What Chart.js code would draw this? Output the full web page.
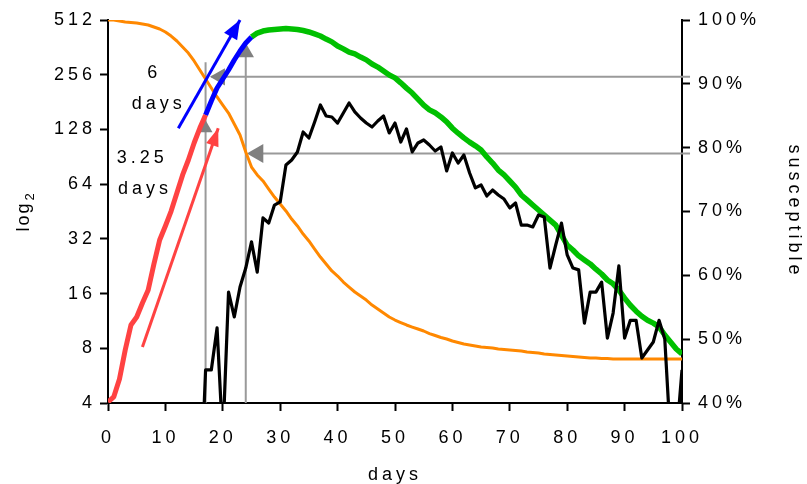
<!DOCTYPE html>
<html>
<head>
<meta charset="utf-8">
<script src="https://cdn.jsdelivr.net/npm/chart.js@4.4.1/dist/chart.umd.min.js"></script>
<style>
html, body { margin: 0; padding: 0; background: #fff; }
</style>
</head>
<body>
<canvas id="myChart" width="807" height="484"></canvas>
<script>
// tick labels
const xTicks = [0, 10, 20, 30, 40, 50, 60, 70, 80, 90, 100];
const leftTicks = [4, 8, 16, 32, 64, 128, 256, 512];
const rightTicks = [40, 50, 60, 70, 80, 90, 100];

// susceptible share, days 0..100 (right axis, %)
const susceptiblePct = [
    100, 100, 99.84, 99.69, 99.61, 99.53, 99.37, 99.22, 98.90, 98.59,
    98.12, 97.49, 96.71, 95.77, 94.83, 93.58, 92.17, 90.76, 89.35, 87.94,
    86.68, 85.43, 83.71, 81.98, 79.32, 76.97, 75.72, 74.78, 73.52, 72.27,
    71.17, 70.08, 68.82, 67.73, 66.47, 65.38, 64.12, 62.87, 61.77, 60.68,
    59.89, 58.95, 58.17, 57.39, 56.76, 56.13, 55.35, 54.72, 54.10, 53.47,
    53.00, 52.61, 52.22, 51.90, 51.59, 51.28, 50.88, 50.57, 50.26, 50.02,
    49.71, 49.48, 49.24, 49.09, 48.93, 48.77, 48.69, 48.61, 48.46, 48.38,
    48.30, 48.22, 48.14, 47.99, 47.91, 47.83, 47.67, 47.59, 47.52, 47.44,
    47.36, 47.28, 47.20, 47.12, 47.05, 47.05, 46.97, 46.97, 46.89, 46.89,
    46.89, 46.89, 46.89, 46.89, 46.89, 46.89, 46.89, 46.89, 46.89, 46.89, 46.89
];

// smoothed curve, split in three coloured parts (left axis, log2)
const redStart = 0;
const redLog = [4.05, 4.32, 5.42, 7.83, 10.75, 11.89, 14.2, 16.74, 23.26, 31.54,
    37.66, 45.5, 57.2, 71.9, 86.9, 107.8, 130.3, 153.7];
const blueStart = 17;
const blueLog = [153.7, 183.5, 216.3, 242.5, 271.7, 308.5, 345.6, 382.6, 412.7];
const greenStart = 25;
const greenLog = [
    412.7, 434, 445, 451, 454, 457, 460, 457, 454, 448,
    440, 429, 418, 402, 388, 368, 355, 341, 333, 320,
    309, 293, 282, 268, 255, 246, 231, 216, 203, 188,
    174, 164, 158, 150, 141, 130, 122, 115, 109, 104,
    98.6, 90.3, 83.6, 76.5, 71.9, 66.6, 61.7, 55.8, 52.4, 49.1,
    46.1, 43.3, 40.6, 38.1, 33.6, 29.6, 27.8, 25.8, 24.5, 23.3,
    21.8, 20.5, 19.0, 18.1, 16.7, 15.1, 13.8, 12.8, 12.0, 11.4,
    11.0, 10.5, 9.47, 8.67, 7.93, 7.44
];

// daily counts, days 16..100 (left axis, log2)
const blackStart = 16;
const blackLog = [
    1, 6.08, 6.08, 10.35, 2.5, 16.3, 11.9, 17.4, 22.1, 30.8,
    21.0, 41.7, 39.1, 49.1, 51.1, 81.6, 86.9, 96.2, 123.9, 114.8,
    140.7, 174.4, 151.7, 149.8, 138.8, 157.6, 178.9, 159.7, 147.9, 138.8,
    132.0, 142.4, 151.7, 122.4, 138.8, 109.1, 128.7, 96.2, 107.8, 112.0,
    105.1, 97.4, 102.5, 75.6, 95.0, 83.6, 92.6, 73.7, 61.0, 63.3,
    55.1, 59.4, 55.8, 53.0, 47.3, 50.4, 38.1, 38.1, 37.2, 43.3,
    42.2, 22.1, 29.6, 39.1, 26.1, 22.1, 21.6, 11.0, 16.3, 16.3,
    18.5, 9.1, 12.5, 22.7, 9.1, 11.4, 11.4, 7.07, 7.83, 8.66,
    11.4, 9.0, 2.5, 2.5, 6.08
];

// doubling-time arrows [day, log2 value]
const redArrow = [[6.0, 8.13], [19.2, 130]];
const blueArrow = [[12.25, 130], [23.0, 512]];

// guide lines and their arrow heads
const guideV1 = [[17, 4], [17, 300]];
const guideV2 = [[24, 4], [24, 350]];
const guideH1 = [[18, 91.1], [101.4, 91.1]];
const guideH2 = [[25, 79.1], [101.4, 79.1]];
const upHeads = [[17, 130], [24, 339]];
const leftHeads = [[19.5, 91.1], [26.1, 79.1]];

const notes = [
    { text: '6', day: 7.7, val: 262 },
    { text: 'days', day: 8.5, val: 177 },
    { text: '3.25', day: 5.6, val: 89 },
    { text: 'days', day: 6.1, val: 60 }
];

function pts(start, arr) {
    return arr.map(function (v, i) { return { x: start + i, y: v }; });
}
function pairs(arr) {
    return arr.map(function (p) { return { x: p[0], y: p[1] }; });
}

const FONT = "'Liberation Sans', Arial, sans-serif";
Chart.defaults.font.family = FONT;
Chart.defaults.font.size = 18;
Chart.defaults.color = '#000';

const spacing = {
    id: 'spacing',
    beforeDraw(chart) { chart.ctx.letterSpacing = '4px'; }
};

const arrowHeads = {
    id: 'arrowHeads',
    afterDatasetsDraw(chart) {
        const ctx = chart.ctx;
        chart.data.datasets.forEach(function (ds, i) {
            if (!ds.head) return;
            const p = chart.getDatasetMeta(i).data;
            const a = p[p.length - 2], b = p[p.length - 1];
            const ang = Math.atan2(b.y - a.y, b.x - a.x);
            ctx.save();
            ctx.translate(b.x, b.y);
            ctx.rotate(ang);
            ctx.beginPath();
            ctx.moveTo(0, 0);
            ctx.lineTo(-ds.head.len, -ds.head.w / 2);
            ctx.lineTo(-ds.head.len, ds.head.w / 2);
            ctx.closePath();
            ctx.fillStyle = ds.borderColor;
            ctx.fill();
            ctx.restore();
        });
    }
};

const notesPlugin = {
    id: 'notes',
    afterDraw(chart) {
        const ctx = chart.ctx, xs = chart.scales.x, ys = chart.scales.y;
        const area = chart.chartArea;
        ctx.save();
        ctx.font = '18px ' + FONT;
        ctx.fillStyle = '#000';
        ctx.textAlign = 'center';
        ctx.textBaseline = 'middle';
        ctx.letterSpacing = '4px';
        notes.forEach(function (n) {
            ctx.fillText(n.text, xs.getPixelForValue(n.day) + 2, ys.getPixelForValue(n.val));
        });
        // left axis title: log with subscript 2
        ctx.translate(23, (area.top + area.bottom) / 2);
        ctx.rotate(-Math.PI / 2);
        ctx.textAlign = 'left';
        ctx.textBaseline = 'alphabetic';
        ctx.letterSpacing = '2px';
        const w = ctx.measureText('log').width;
        ctx.fillText('log', -w / 2 - 5, 6);
        ctx.font = '13px ' + FONT;
        ctx.fillText('2', w / 2 - 4, 11);
        ctx.restore();
    }
};

function lineSet(data, color, width, axis, extra) {
    return Object.assign({
        data: data, borderColor: color, borderWidth: width, yAxisID: axis,
        pointRadius: 0, tension: 0, fill: false, borderJoinStyle: 'round'
    }, extra || {});
}

const GRAY = '#9a9a9a';
const HEAD = '#808080';

const ctx = document.getElementById('myChart').getContext('2d');
var myChart = new Chart(ctx, {
    type: 'line',
    data: {
        datasets: [
            lineSet(pairs(redArrow), '#ff4242', 3, 'y', { head: { len: 18, w: 13 }, clip: false }),
            lineSet(pairs(blueArrow), '#0000ff', 3, 'y', { head: { len: 19, w: 15 }, clip: false }),
            lineSet(pts(blackStart, blackLog), '#000000', 3.2, 'y'),
            lineSet(pts(redStart, redLog), '#ff4242', 5, 'y'),
            lineSet(pts(blueStart, blueLog), '#0000ff', 5, 'y'),
            lineSet(pts(greenStart, greenLog), '#00c000', 5.5, 'y'),
            lineSet(pts(0, susceptiblePct), '#ff8800', 3, 'y1'),
            lineSet(pairs(upHeads), HEAD, 0, 'y', {
                showLine: false, pointStyle: 'triangle', pointRadius: [8, 9.5],
                pointBackgroundColor: HEAD, pointBorderWidth: 0
            }),
            lineSet(pairs(leftHeads), HEAD, 0, 'y1', {
                showLine: false, pointStyle: 'triangle', pointRadius: [10, 11], pointRotation: -90,
                pointBackgroundColor: HEAD, pointBorderWidth: 0
            }),
            lineSet(pairs(guideV1), GRAY, 2, 'y'),
            lineSet(pairs(guideV2), GRAY, 2, 'y'),
            lineSet(pairs(guideH1), GRAY, 2, 'y1', { clip: false }),
            lineSet(pairs(guideH2), GRAY, 2, 'y1', { clip: false })
        ]
    },
    options: {
        responsive: false,
        animation: false,
        layout: { padding: { top: 20, left: 0, right: 0, bottom: 0 } },
        plugins: { legend: { display: false }, tooltip: { enabled: false } },
        scales: {
            x: {
                type: 'linear', min: 0, max: 100,
                afterBuildTicks: function (s) { s.ticks = xTicks.map(function (v) { return { value: v }; }); },
                afterFit: function (s) { s.height = 81; },
                ticks: { autoSkip: false, maxRotation: 0, padding: 16 },
                grid: { drawOnChartArea: false, drawTicks: true, tickLength: 8, tickWidth: 2, tickColor: '#000' },
                border: { color: '#000', width: 2 },
                title: { display: true, text: 'days', padding: { top: 0, bottom: -2 } }
            },
            y: {
                type: 'logarithmic', position: 'left', min: 4, max: 512,
                afterBuildTicks: function (s) { s.ticks = leftTicks.map(function (v) { return { value: v }; }); },
                afterFit: function (s) { s.width = 108; },
                ticks: { autoSkip: false, padding: 4, callback: function (v) { return String(v); } },
                grid: { drawOnChartArea: false, drawTicks: true, tickLength: 8, tickWidth: 2, tickColor: '#000' },
                border: { color: '#000', width: 2 },
                title: { display: false }
            },
            y1: {
                type: 'linear', position: 'right', min: 40, max: 100,
                afterBuildTicks: function (s) { s.ticks = rightTicks.map(function (v) { return { value: v }; }); },
                afterFit: function (s) { s.width = 125; },
                ticks: { autoSkip: false, padding: 8, callback: function (v) { return v + '%'; } },
                grid: { drawOnChartArea: false, drawTicks: true, tickLength: 8, tickWidth: 2, tickColor: '#000' },
                border: { color: '#000', width: 2 },
                title: { display: true, text: 'susceptible', padding: { top: 2, bottom: 0 } }
            }
        }
    },
    plugins: [spacing, arrowHeads, notesPlugin]
});
</script>
</body>
</html>
